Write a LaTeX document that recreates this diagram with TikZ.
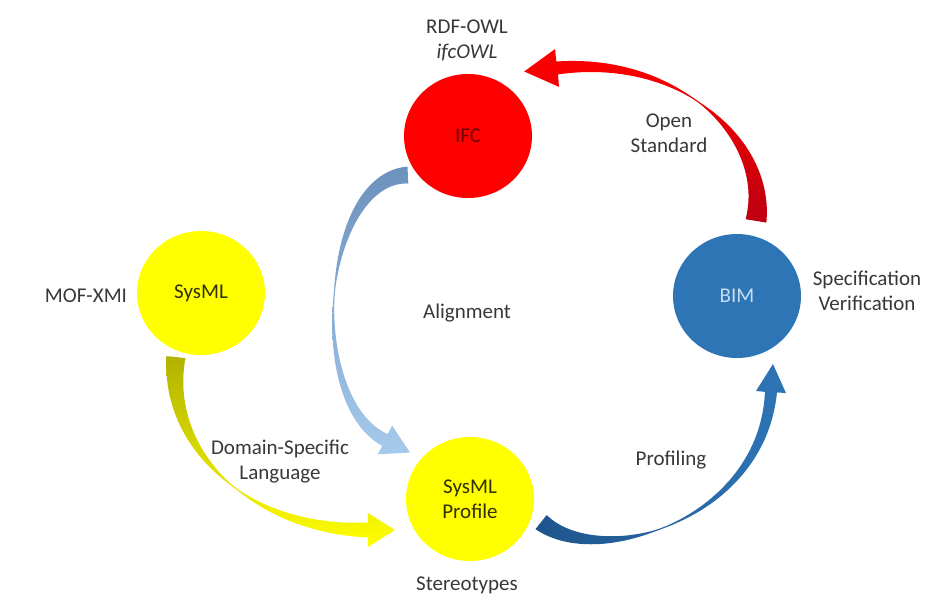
\documentclass[tikz,border=0pt]{standalone}
\usepackage{fontspec}
\setmainfont{Carlito}
\usetikzlibrary{shapes.geometric}

\definecolor{labelgray}{HTML}{383838}
\definecolor{ifcred}{HTML}{FF0000}
\definecolor{ifctext}{HTML}{6E0000}
\definecolor{sysyellow}{HTML}{FFFF00}
\definecolor{systext}{HTML}{303000}
\definecolor{bimblue}{HTML}{2E75B6}
\definecolor{bimtext}{HTML}{C9DCF0}

% width parameters of a tapered arrow: tail width / thinnest point (0..1) / band width at head / head length / head half width
\def\tpwidths#1/#2/#3/#4/#5\relax{\def\tpWT{#1}\def\tpM{#2}\def\tpWH{#3}\def\tpHL{#4}\def\tpHH{#5}}

% \taperarrow{path options}{widths}{tail}{control 1}{control 2}{head base}
% a curved block arrow following a cubic Bezier centre line,
% thick at the tail, pinched in the middle and ending in a wide head
\newcommand\taperarrow[6]{%
  \tpwidths#2\relax
  \path (#3); \pgfgetlastxy{\tpX}{\tpY}%
  \pgfmathsetmacro\tpAx{\tpX}\pgfmathsetmacro\tpAy{\tpY}%
  \path (#4); \pgfgetlastxy{\tpX}{\tpY}%
  \pgfmathsetmacro\tpBx{\tpX}\pgfmathsetmacro\tpBy{\tpY}%
  \path (#5); \pgfgetlastxy{\tpX}{\tpY}%
  \pgfmathsetmacro\tpCx{\tpX}\pgfmathsetmacro\tpCy{\tpY}%
  \path (#6); \pgfgetlastxy{\tpX}{\tpY}%
  \pgfmathsetmacro\tpDx{\tpX}\pgfmathsetmacro\tpDy{\tpY}%
  \begin{scope}[x=1pt,y=1pt,declare function={
      bzx(\t)=(1-\t)^3*\tpAx+3*(1-\t)^2*\t*\tpBx+3*(1-\t)*\t^2*\tpCx+\t^3*\tpDx;
      bzy(\t)=(1-\t)^3*\tpAy+3*(1-\t)^2*\t*\tpBy+3*(1-\t)*\t^2*\tpCy+\t^3*\tpDy;
      dzx(\t)=((1-\t)^2*(\tpBx-\tpAx)+2*(1-\t)*\t*(\tpCx-\tpBx)+\t^2*(\tpDx-\tpCx))/100;
      dzy(\t)=((1-\t)^2*(\tpBy-\tpAy)+2*(1-\t)*\t*(\tpCy-\tpBy)+\t^2*(\tpDy-\tpCy))/100;
      dzl(\t)=sqrt(dzx(\t)^2+dzy(\t)^2);
      hwd(\t)=sqrt((ifthenelse(\t<\tpM,\tpWT*(\tpM-\t)/\tpM,\tpWH*(\t-\tpM)/(1-\tpM)))^2/4+0.3);
    }]
    \path[#1]
      plot[variable=\t,domain=0:1,samples=70]
        ({bzx(\t)-hwd(\t)*dzy(\t)/dzl(\t)},{bzy(\t)+hwd(\t)*dzx(\t)/dzl(\t)})
      -- ({\tpDx-\tpHH*dzy(1)/dzl(1)},{\tpDy+\tpHH*dzx(1)/dzl(1)})
      -- ({\tpDx+\tpHL*dzx(1)/dzl(1)},{\tpDy+\tpHL*dzy(1)/dzl(1)})
      -- ({\tpDx+\tpHH*dzy(1)/dzl(1)},{\tpDy-\tpHH*dzx(1)/dzl(1)})
      -- plot[variable=\t,domain=1:0,samples=70]
        ({bzx(\t)+hwd(\t)*dzy(\t)/dzl(\t)},{bzy(\t)-hwd(\t)*dzx(\t)/dzl(\t)})
      -- cycle;
  \end{scope}}

\begin{document}
\begin{tikzpicture}[x=1pt,y=-1pt,
  every node/.style={font=\fontsize{21}{25}\selectfont, inner sep=0pt},
  bubble/.style={ellipse, minimum width=128pt, minimum height=124pt, inner sep=0pt, align=center},
  note/.style={align=center, text=labelgray},
  redfade/.style={top color=ifcred, bottom color={rgb,255:red,188;green,0;blue,16}},
  steelfade/.style={top color={rgb,255:red,108;green,145;blue,188}, bottom color={rgb,255:red,165;green,202;blue,236}},
  olivefade/.style={top color={rgb,255:red,178;green,178;blue,0}, bottom color=sysyellow},
  navyfade/.style={left color={rgb,255:red,30;green,84;blue,140}, right color=bimblue},
]
\useasboundingbox (0,0) rectangle (931,595);
\fill[white] (0,0) rectangle (931,595);

% arrow ends
\coordinate (redtail) at (756,221);
\coordinate (redhead) at (557,68);
\coordinate (steeltail) at (408,175);
\coordinate (steelhead) at (385,440);
\coordinate (olivetail) at (176,357);
\coordinate (olivehead) at (368,530);
\coordinate (navytail) at (541,522);
\coordinate (navyhead) at (771,392);

% curved block arrows
\taperarrow{redfade}{21/0.55/13/33/19}{redtail}{770,140}{680,55}{redhead}
\taperarrow{steelfade}{17/0.5/13/28/16}{steeltail}{322,178}{305,400}{steelhead}
\taperarrow{olivefade}{19/0.55/15/27/17}{olivetail}{165,450}{250,530}{olivehead}
\taperarrow{navyfade}{18/0.45/12/28/15}{navytail}{600,570}{762,520}{navyhead}

% the four models
\node[bubble, fill=ifcred, text=ifctext] (ifc) at (468,136) {IFC};
\node[bubble, fill=sysyellow, text=systext] (sysml) at (201,293) {SysML};
\node[bubble, fill=bimblue, text=bimtext] (bim) at (737,296) {BIM};
\node[bubble, fill=sysyellow, text=systext] (profile) at (470,499) {SysML\\Profile};

% annotations
\node[note] (rdf) at (467,40) {RDF-OWL\\\textit{ifcOWL}};
\node[note] (mof) at (86,296) {MOF-XMI};
\node[note] (align) at (467,313) {Alignment};
\node[note] (dsl) at (280,462) {Domain-Specific\\Language};
\node[note] (prof) at (671,460) {Profiling};
\node[note] (stereo) at (467,585) {Stereotypes};
\node[note] (open) at (669,133) {Open\\Standard};
\node[note] (spec) at (867,291) {Specification\\Verification};
\end{tikzpicture}
\end{document}
